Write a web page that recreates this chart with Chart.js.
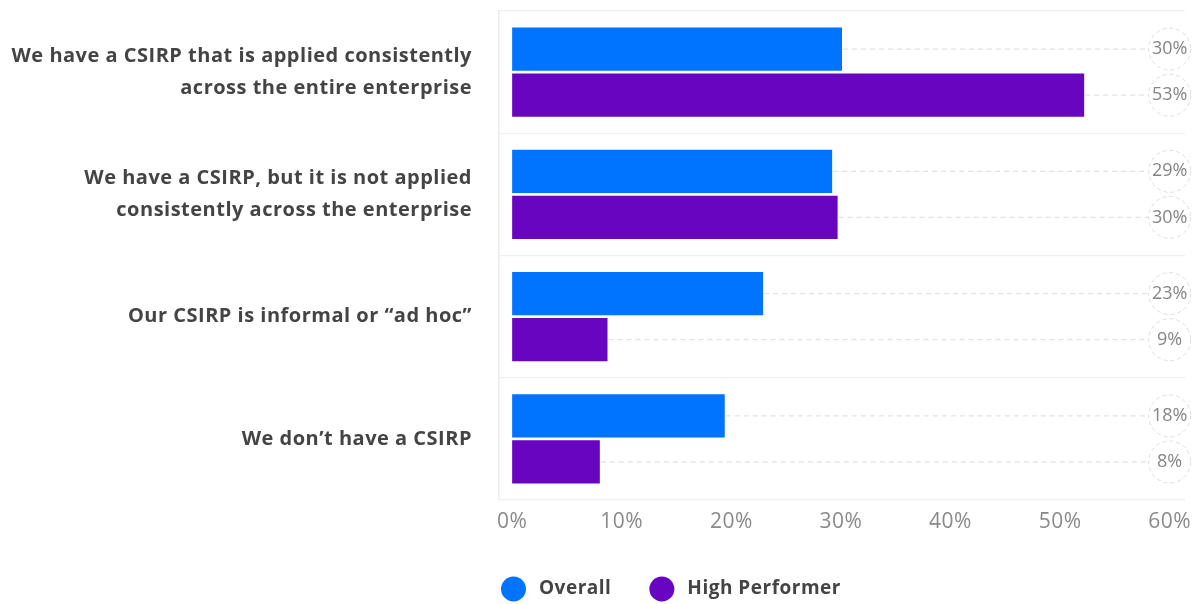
<!DOCTYPE html>
<html><head><meta charset="utf-8">
<script src="https://cdn.jsdelivr.net/npm/chart.js@4.4.1/dist/chart.umd.min.js"></script>
<style>html,body{margin:0;padding:0;background:#fff}canvas{display:block}</style>
</head><body>
<canvas id="c" width="1200" height="604"></canvas>
<script>
const categories = [
  ['We have a CSIRP that is applied consistently', 'across the entire enterprise'],
  ['We have a CSIRP, but it is not applied', 'consistently across the enterprise'],
  'Our CSIRP is informal or \u201cad hoc\u201d',
  'We don\u2019t have a CSIRP'
];
const seriesNames = ['Overall', 'High Performer'];
const overallValues = [30.1, 29.2, 22.9, 19.4];
const highPerformerValues = [52.2, 29.7, 8.7, 8.0];
const overallLabels = ['30%', '29%', '23%', '18%'];
const highPerformerLabels = ['53%', '30%', '9%', '8%'];
const xTickValues = [0, 10, 20, 30, 40, 50, 60];
const xTickLabels = ['0%', '10%', '20%', '30%', '40%', '50%', '60%'];

const FONT = '"Open Sans"';
const colors = ['#0073ff', '#6805c0'];
const valueLabels = [overallLabels, highPerformerLabels];

const spacingPlugin = {
  id: 'letterSpacing',
  beforeDraw(chart) { chart.ctx.letterSpacing = '0.5px'; },
  beforeDatasetsDraw(chart) { chart.ctx.letterSpacing = '0px'; }
};

const dataLabelPlugin = {
  id: 'dataLabelCircles',
  afterDatasetsDraw(chart) {
    const ctx = chart.ctx;
    const xs = chart.scales.x;
    const cx = xs.getPixelForValue(xTickValues[xTickValues.length - 1]);
    const r = 21;
    chart.data.datasets.forEach((ds, di) => {
      const meta = chart.getDatasetMeta(di);
      meta.data.forEach((bar, i) => {
        ctx.save();
        ctx.strokeStyle = '#e2e2e2';
        ctx.lineWidth = 1.3;
        ctx.setLineDash([5, 4]);
        ctx.beginPath();
        ctx.moveTo(bar.x + 1, bar.y);
        ctx.lineTo(cx - r, bar.y);
        ctx.stroke();
        ctx.setLineDash([4, 3]);
        ctx.lineWidth = 1;
        ctx.strokeStyle = '#dcdcdc';
        ctx.beginPath();
        ctx.arc(cx, bar.y, r, 0, Math.PI * 2);
        ctx.stroke();
        ctx.setLineDash([]);
        ctx.fillStyle = '#858585';
        ctx.font = '18px ' + FONT;
        ctx.textAlign = 'center';
        ctx.textBaseline = 'middle';
        ctx.fillText(valueLabels[di][i], cx, bar.y);
        ctx.restore();
      });
    });
  }
};

const legendPlugin = {
  id: 'customLegend',
  afterDraw(chart) {
    const ctx = chart.ctx;
    let x = chart.chartArea.left + 2;
    const y = 589;
    ctx.save();
    ctx.letterSpacing = '0.5px';
    ctx.font = 'bold 19px ' + FONT;
    ctx.textBaseline = 'middle';
    ctx.textAlign = 'left';
    chart.data.datasets.forEach((ds) => {
      ctx.fillStyle = ds.backgroundColor;
      ctx.beginPath();
      ctx.arc(x + 12.5, y, 12.5, 0, Math.PI * 2);
      ctx.fill();
      ctx.fillStyle = '#444444';
      const tx = x + 38;
      ctx.fillText(ds.label, tx, y);
      x = tx + ctx.measureText(ds.label).width + 38;
    });
    ctx.restore();
  }
};

new Chart(document.getElementById('c'), {
  type: 'bar',
  data: {
    labels: categories,
    datasets: [
      { label: seriesNames[0], data: overallValues, backgroundColor: colors[0] },
      { label: seriesNames[1], data: highPerformerValues, backgroundColor: colors[1] }
    ]
  },
  options: {
    indexAxis: 'y',
    responsive: false,
    animation: false,
    devicePixelRatio: 1,
    categoryPercentage: 0.754,
    barPercentage: 0.935,
    layout: { padding: { top: 11, right: 15, bottom: 0, left: 0 } },
    plugins: { legend: { display: false }, tooltip: { enabled: false } },
    scales: {
      x: {
        type: 'linear',
        min: -1.2,
        max: 61.4,
        afterBuildTicks(scale) { scale.ticks = xTickValues.map(v => ({ value: v })); },
        afterFit(scale) { scale.height = 104; scale.paddingLeft = 0; scale.paddingRight = 0; },
        grid: { display: false, drawTicks: false },
        border: { display: false },
        ticks: {
          padding: 9,
          color: '#8a8a8a',
          font: { family: FONT, size: 21 },
          callback: (v) => xTickLabels[xTickValues.indexOf(v)]
        }
      },
      y: {
        type: 'category',
        afterFit(scale) { scale.width = 499; scale.paddingTop = 0; scale.paddingBottom = 0; },
        grid: { offset: true, color: '#efefef', drawTicks: false, lineWidth: 1.2 },
        border: { display: true, color: '#ececec', width: 1.5 },
        ticks: {
          padding: 27,
          color: '#444444',
          font: { family: FONT, size: 20, weight: 'bold', lineHeight: 1.6 }
        }
      }
    }
  },
  plugins: [spacingPlugin, dataLabelPlugin, legendPlugin]
});
</script>
</body></html>
